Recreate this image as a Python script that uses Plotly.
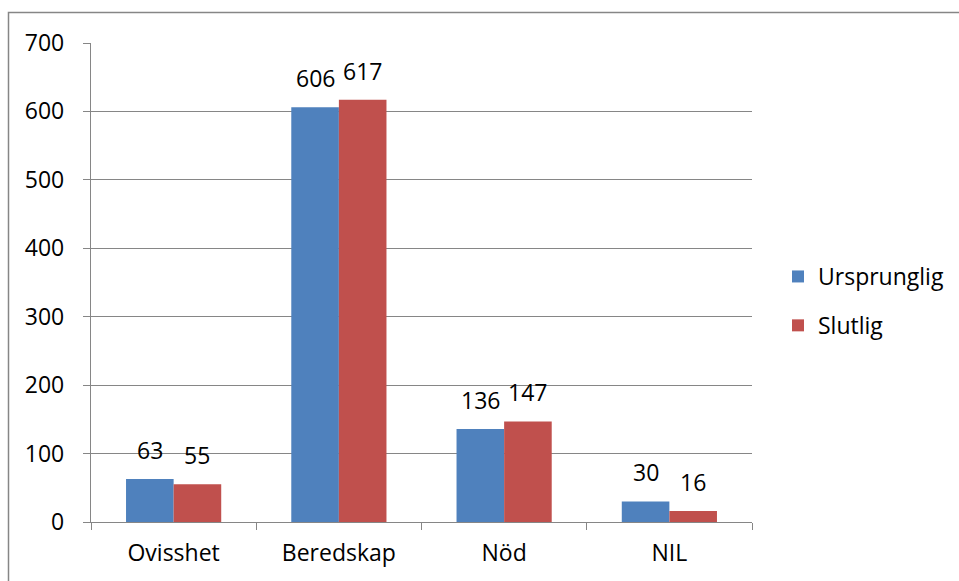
import plotly.graph_objects as go

categories = ["Ovisshet", "Beredskap", "Nöd", "NIL"]
ursprunglig = [63, 606, 136, 30]
slutlig = [55, 617, 147, 16]
series_names = ["Ursprunglig", "Slutlig"]
colors = ["#4F81BD", "#C0504D"]

W, H = 959, 581
L, R, T, B = 91, 752, 43, 522
pw, ph = R - L, B - T
FS = 23
bar_w = 47.5

fig = go.Figure()
annotations = []
for i, (name, vals) in enumerate(zip(series_names, [ursprunglig, slutlig])):
    fig.add_trace(go.Bar(
        x=categories, y=vals, name=name,
        marker=dict(color=colors[i], line=dict(width=0)),
        legendgroup=name,
    ))
    for c, v in zip(categories, vals):
        annotations.append(dict(
            x=c, y=v, xref="x", yref="y", text=str(v), showarrow=False,
            xanchor="center", yanchor="bottom",
            xshift=(i - 0.5) * bar_w, yshift=11,
            font=dict(size=FS, color="#000000"),
        ))

font = "Open Sans, Liberation Sans, sans-serif"
fig.update_layout(
    width=W, height=H,
    margin=dict(l=L, r=W - R, t=T, b=H - B, autoexpand=False),
    paper_bgcolor="white", plot_bgcolor="white",
    barmode="group", bargap=0.424, bargroupgap=0,
    font=dict(family=font, size=FS, color="#000000"),
    showlegend=True,
    legend=dict(x=(814 - 36 - L) / pw, y=(B - 301) / ph, xanchor="left", yanchor="middle",
                font=dict(size=FS), tracegroupgap=16, traceorder="grouped",
                itemwidth=30, bgcolor="rgba(0,0,0,0)"),
    xaxis=dict(showline=True, linecolor="#868686", linewidth=1.3,
               ticks="outside", tickson="boundaries", ticklen=7, tickcolor="#868686",
               showgrid=False, tickfont=dict(size=FS), ticklabelstandoff=10, automargin=False),
    yaxis=dict(range=[0, 700], dtick=100, showline=True, linecolor="#868686", linewidth=1.3,
               ticks="outside", ticklen=7, tickcolor="#868686",
               showgrid=True, gridcolor="#868686", gridwidth=1.3,
               tickfont=dict(size=FS), zeroline=False, ticklabelstandoff=14, automargin=False),
    annotations=annotations,
    shapes=[dict(type="rect", xref="paper", yref="paper",
                 x0=(8.5 - L) / pw, x1=(990 - L) / pw,
                 y0=(B - 620) / ph, y1=(B - 12.5) / ph,
                 line=dict(color="#868686", width=1.5), fillcolor="rgba(0,0,0,0)", layer="below")],
)
fig.write_html("out.html", config={"displayModeBar": False},
               post_script="document.body.style.margin='0';")
